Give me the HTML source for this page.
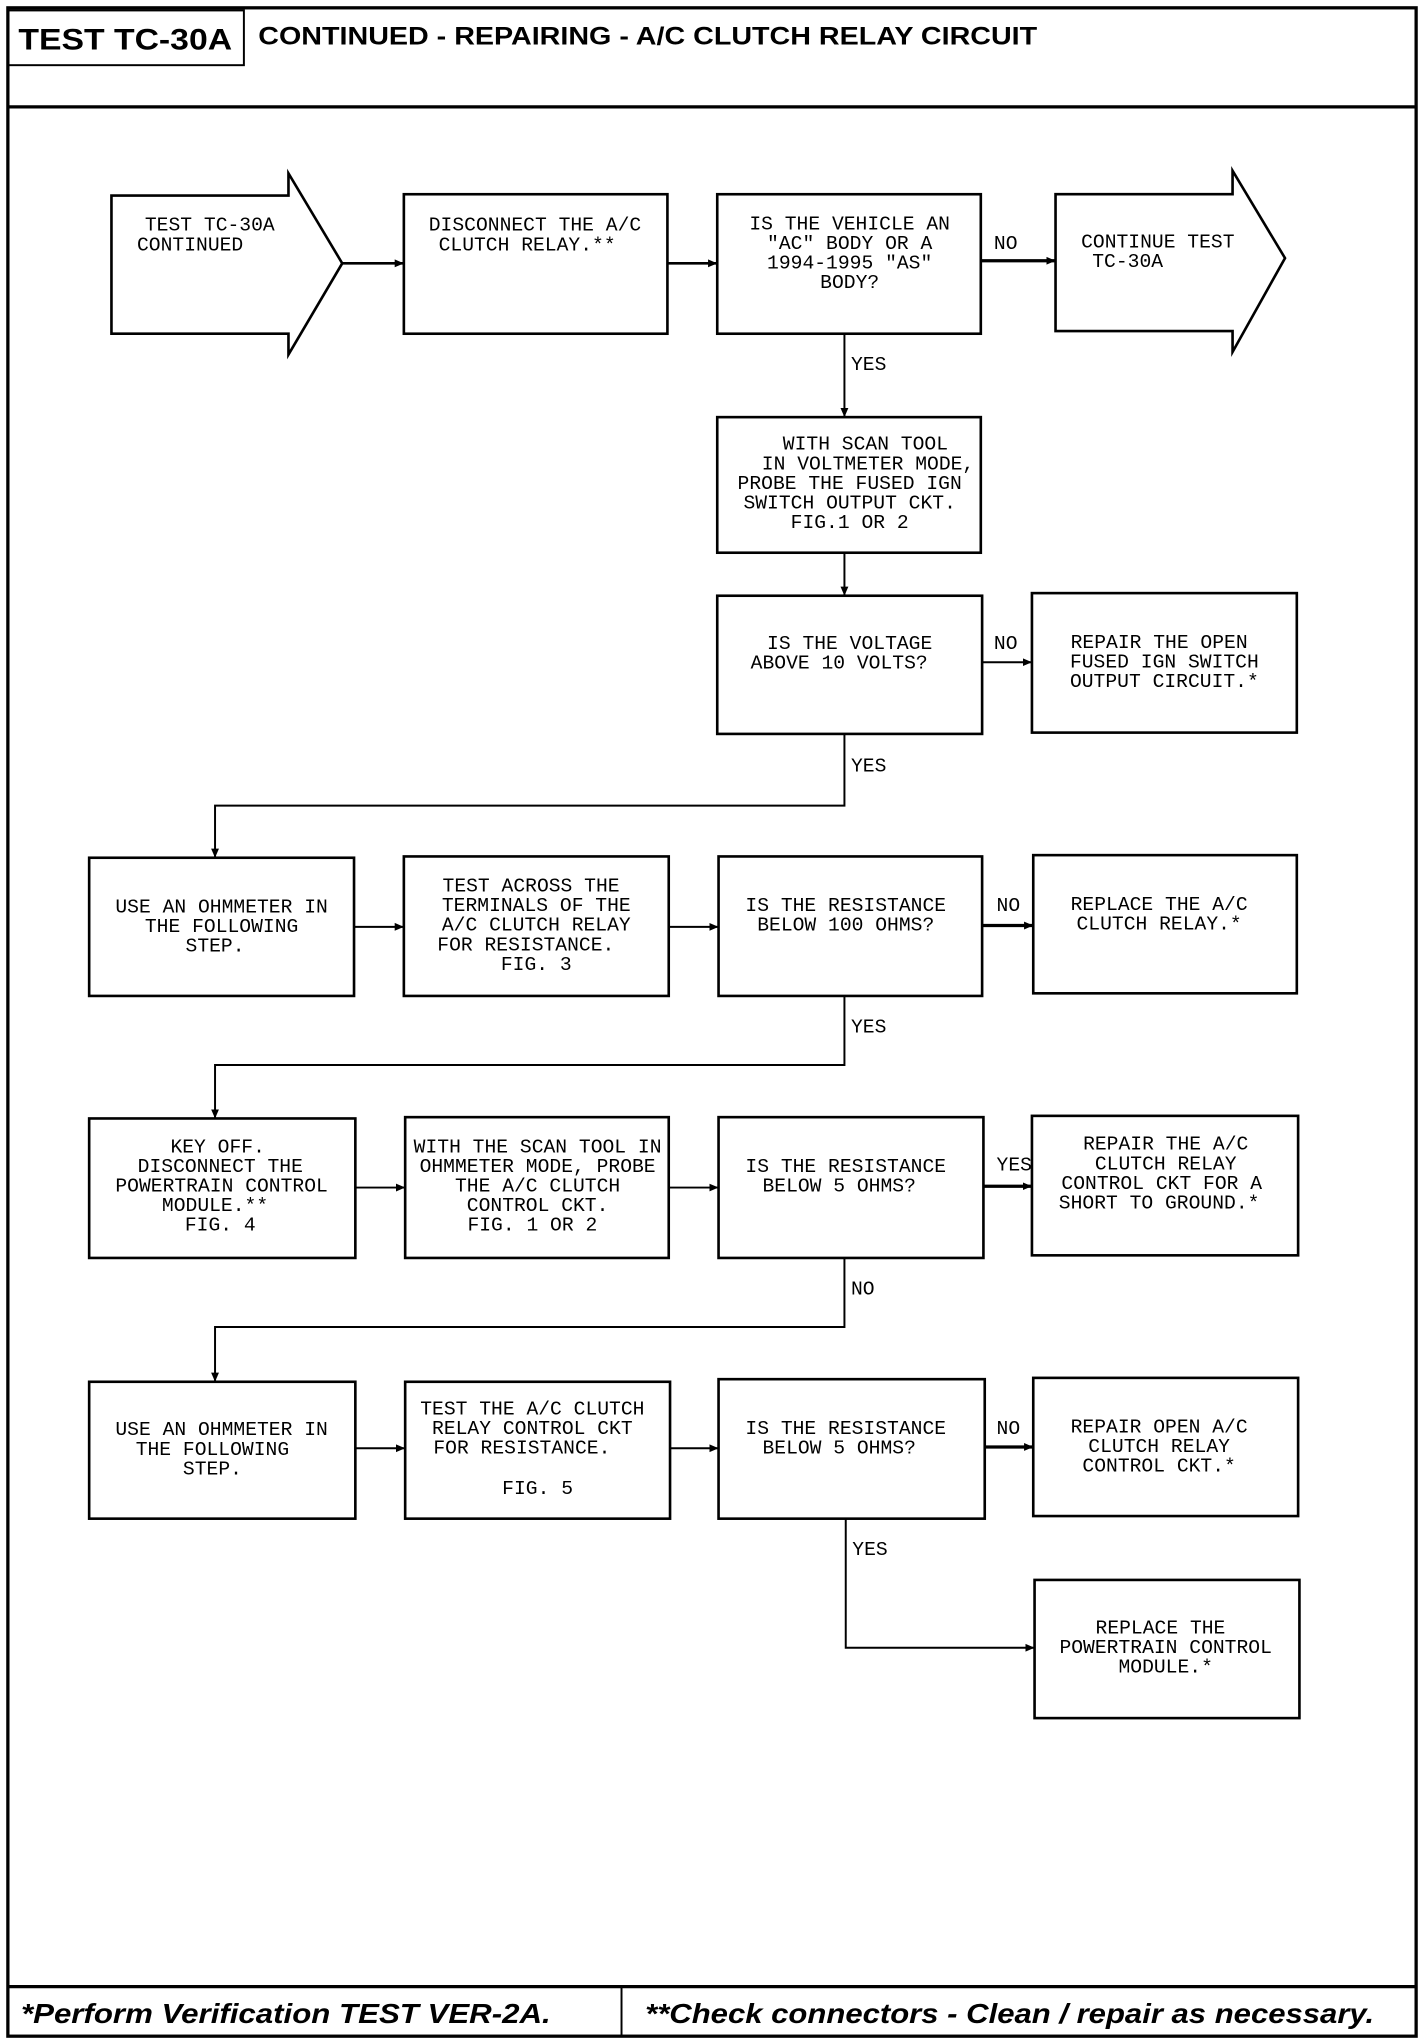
<!DOCTYPE html>
<html><head><meta charset="utf-8"><style>
html,body{margin:0;padding:0;background:#fff;}
svg{display:block;}
.t{font-family:"Liberation Mono",monospace;font-size:15px;fill:#000;text-anchor:middle;}
.l{font-family:"Liberation Mono",monospace;font-size:15px;fill:#000;}
</style></head><body>
<svg width="1424" height="2044" viewBox="0 0 1086 1568" preserveAspectRatio="none" xmlns="http://www.w3.org/2000/svg">
<defs><marker id="a" markerWidth="8" markerHeight="8" refX="7" refY="4" orient="auto" markerUnits="userSpaceOnUse"><path d="M0,1 L7,4 L0,7 z" fill="#000"/></marker></defs>
<g fill="none" stroke="#000" stroke-width="2.5">
<rect x="6" y="6" width="1074" height="1556"/>
<line x1="6" y1="82" x2="1080" y2="82"/>
<rect x="6" y="8" width="180" height="42" stroke-width="1.5"/>
<line x1="6" y1="1524" x2="1080" y2="1524"/>
<line x1="474" y1="1524" x2="474" y2="1562" stroke-width="1.5"/>
</g>
<text x="14" y="38" textLength="163" lengthAdjust="spacingAndGlyphs" style="font-family:'Liberation Sans',sans-serif;font-weight:bold;font-size:23px;">TEST TC-30A</text>
<text x="197" y="34" textLength="594" lengthAdjust="spacingAndGlyphs" style="font-family:'Liberation Sans',sans-serif;font-weight:bold;font-size:19px;">CONTINUED -  REPAIRING - A/C CLUTCH RELAY CIRCUIT</text>
<text x="16" y="1552" textLength="404" lengthAdjust="spacingAndGlyphs" style="font-family:'Liberation Sans',sans-serif;font-weight:bold;font-style:italic;font-size:21px;">*Perform Verification TEST VER-2A.</text>
<text x="492" y="1552" textLength="556" lengthAdjust="spacingAndGlyphs" style="font-family:'Liberation Sans',sans-serif;font-weight:bold;font-style:italic;font-size:21px;">**Check connectors - Clean / repair as necessary.</text>

<g fill="none" stroke="#000" stroke-width="2">
<path d="M85,150 L220,150 L220,133 L261,202 L220,272 L220,256 L85,256 Z"/>
<path d="M805,149 L940,149 L940,131 L980,198 L940,270 L940,254 L805,254 Z"/>
<rect x="308" y="149" width="201" height="107"/>
<rect x="547" y="149" width="201" height="107"/>
<rect x="547" y="320" width="201" height="104"/>
<rect x="547" y="457" width="202" height="106"/>
<rect x="787" y="455" width="202" height="107"/>
<rect x="68" y="658" width="202" height="106"/>
<rect x="308" y="657" width="202" height="107"/>
<rect x="548" y="657" width="201" height="107"/>
<rect x="788" y="656" width="201" height="106"/>
<rect x="68" y="858" width="203" height="107"/>
<rect x="309" y="857" width="201" height="108"/>
<rect x="548" y="857" width="202" height="108"/>
<rect x="787" y="856" width="203" height="107"/>
<rect x="68" y="1060" width="203" height="105"/>
<rect x="309" y="1060" width="202" height="105"/>
<rect x="548" y="1058" width="203" height="107"/>
<rect x="788" y="1057" width="202" height="106"/>
<rect x="789" y="1212" width="202" height="106"/>
</g>
<g fill="none" stroke="#000" stroke-width="1.5" marker-end="url(#a)">
<line x1="261" y1="202" x2="308" y2="202" stroke-width="2"/>
<line x1="509" y1="202" x2="547" y2="202" stroke-width="2"/>
<line x1="748" y1="200" x2="805" y2="200" stroke-width="2.5"/>
<line x1="644" y1="256" x2="644" y2="320"/>
<line x1="644" y1="424" x2="644" y2="457"/>
<line x1="749" y1="508" x2="787" y2="508"/>
<polyline points="644,563 644,618 164,618 164,658"/>
<line x1="270" y1="711" x2="308" y2="711"/>
<line x1="510" y1="711" x2="548" y2="711"/>
<line x1="749" y1="710" x2="788" y2="710" stroke-width="2.5"/>
<polyline points="644,764 644,817 164,817 164,858"/>
<line x1="271" y1="911" x2="309" y2="911"/>
<line x1="510" y1="911" x2="548" y2="911"/>
<line x1="750" y1="910" x2="787" y2="910" stroke-width="2.5"/>
<polyline points="644,965 644,1018 164,1018 164,1060"/>
<line x1="271" y1="1111" x2="309" y2="1111"/>
<line x1="511" y1="1111" x2="548" y2="1111"/>
<line x1="751" y1="1110" x2="788" y2="1110" stroke-width="2.5"/>
<polyline points="645,1165 645,1264 789,1264"/>
</g>
<g class="l">
<text x="758" y="191">NO</text>
<text x="649" y="284">YES</text>
<text x="758" y="498">NO</text>
<text x="649" y="592">YES</text>
<text x="760" y="699">NO</text>
<text x="649" y="792">YES</text>
<text x="760" y="898">YES</text>
<text x="649" y="993">NO</text>
<text x="760" y="1100">NO</text>
<text x="650" y="1193">YES</text>
</g>
<g class="t">
<text x="160" y="177">TEST TC-30A</text><text x="145" y="192">CONTINUED</text>
<text x="408" y="177">DISCONNECT THE A/C</text><text x="402" y="192">CLUTCH RELAY.**</text>
<text x="648" y="176">IS THE VEHICLE AN</text><text x="648" y="191">"AC" BODY OR A</text><text x="648" y="206">1994-1995 "AS"</text><text x="648" y="221">BODY?</text>
<text x="883" y="190">CONTINUE TEST</text><text x="860" y="205">TC-30A</text>
<text x="660" y="345">WITH SCAN TOOL</text><text x="662" y="360">IN VOLTMETER MODE,</text><text x="648" y="375">PROBE THE FUSED IGN</text><text x="648" y="390">SWITCH OUTPUT CKT.</text><text x="648" y="405">FIG.1 OR 2</text>
<text x="648" y="498">IS THE VOLTAGE</text><text x="640" y="513">ABOVE 10 VOLTS?</text>
<text x="884" y="497">REPAIR THE OPEN</text><text x="888" y="512">FUSED IGN SWITCH</text><text x="888" y="527">OUTPUT CIRCUIT.*</text>
<text x="169" y="700">USE AN OHMMETER IN</text><text x="169" y="715">THE FOLLOWING</text><text x="164" y="730">STEP.</text>
<text x="405" y="684">TEST ACROSS THE</text><text x="409" y="699">TERMINALS OF THE</text><text x="409" y="714">A/C CLUTCH RELAY</text><text x="401" y="729">FOR RESISTANCE.</text><text x="409" y="744">FIG. 3</text>
<text x="645" y="699">IS THE RESISTANCE</text><text x="645" y="714">BELOW 100 OHMS?</text>
<text x="884" y="698">REPLACE THE A/C</text><text x="884" y="713">CLUTCH RELAY.*</text>
<text x="166" y="884">KEY OFF.</text><text x="168" y="899">DISCONNECT THE</text><text x="169" y="914">POWERTRAIN CONTROL</text><text x="164" y="929">MODULE.**</text><text x="168" y="944">FIG. 4</text>
<text x="410" y="884">WITH THE SCAN TOOL IN</text><text x="410" y="899">OHMMETER MODE, PROBE</text><text x="410" y="914">THE A/C CLUTCH</text><text x="410" y="929">CONTROL CKT.</text><text x="406" y="944">FIG. 1 OR 2</text>
<text x="645" y="899">IS THE RESISTANCE</text><text x="640" y="914">BELOW 5 OHMS?</text>
<text x="889" y="882">REPAIR THE A/C</text><text x="889" y="897">CLUTCH RELAY</text><text x="886" y="912">CONTROL CKT FOR A</text><text x="884" y="927">SHORT TO GROUND.*</text>
<text x="169" y="1101">USE AN OHMMETER IN</text><text x="162" y="1116">THE FOLLOWING</text><text x="162" y="1131">STEP.</text>
<text x="406" y="1085">TEST THE A/C CLUTCH</text><text x="406" y="1100">RELAY CONTROL CKT</text><text x="398" y="1115">FOR RESISTANCE.</text><text x="410" y="1146">FIG. 5</text>
<text x="645" y="1100">IS THE RESISTANCE</text><text x="640" y="1115">BELOW 5 OHMS?</text>
<text x="884" y="1099">REPAIR OPEN A/C</text><text x="884" y="1114">CLUTCH RELAY</text><text x="884" y="1129">CONTROL CKT.*</text>
<text x="885" y="1253">REPLACE THE</text><text x="889" y="1268">POWERTRAIN CONTROL</text><text x="889" y="1283">MODULE.*</text>
</g>
</svg>
</body></html>
